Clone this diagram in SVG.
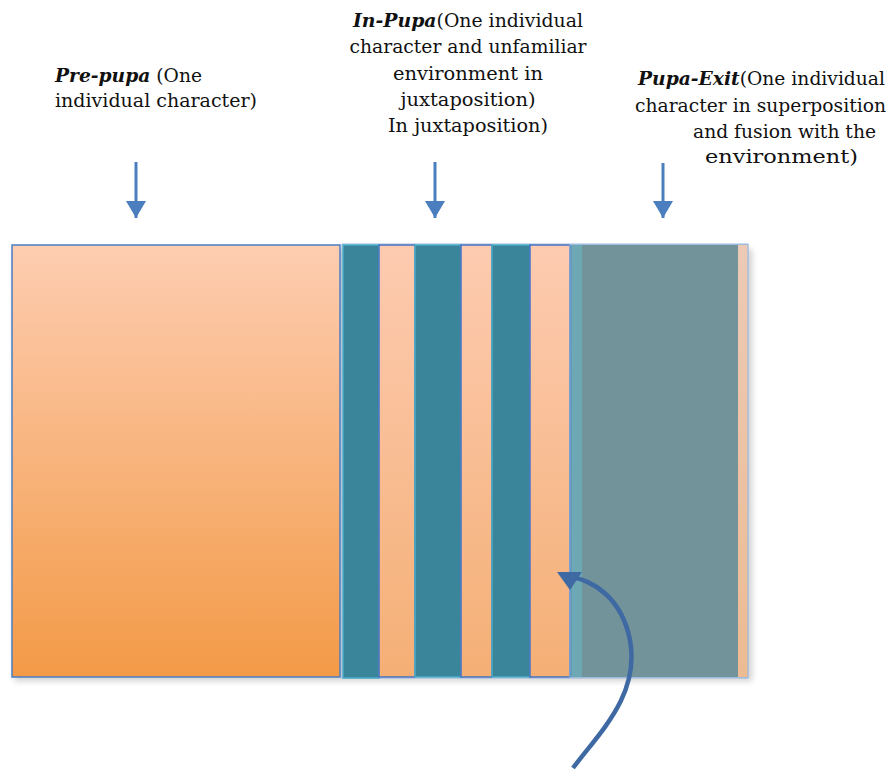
<svg xmlns="http://www.w3.org/2000/svg" width="893" height="772" viewBox="0 0 893 772">
  <defs>
    <linearGradient id="peachBig" x1="0" y1="0" x2="0" y2="1">
      <stop offset="0" stop-color="#FDCDB1"/>
      <stop offset="1" stop-color="#F39A47"/>
    </linearGradient>
    <linearGradient id="peachStripe" x1="0" y1="0" x2="0" y2="1">
      <stop offset="0" stop-color="#FDCBB1"/>
      <stop offset="1" stop-color="#F4AF75"/>
    </linearGradient>
    <linearGradient id="peachSliver" x1="0" y1="0" x2="0" y2="1">
      <stop offset="0" stop-color="#ECCAB6"/>
      <stop offset="1" stop-color="#EDBB92"/>
    </linearGradient>
    <filter id="shadow" x="-5%" y="-5%" width="110%" height="110%">
      <feGaussianBlur stdDeviation="3"/>
    </filter>
    <marker id="headDown" viewBox="0 0 10 10" refX="10" refY="5" markerWidth="17" markerHeight="20" markerUnits="userSpaceOnUse" orient="auto" preserveAspectRatio="none">
      <path d="M0,0 L10,5 L0,10 Z" fill="#4A7EBF"/>
    </marker>
    <style>
      text { font-family: "DejaVu Serif", "Liberation Serif", serif; font-size: 19px; fill: #111; }
      .b { font-weight: bold; font-style: italic; }
      .down { stroke: #4A7EBF; stroke-width: 3; fill: none; }
      .teal { fill: #3A8599; stroke: #4BACC6; stroke-width: 1.5; }
      .peach { fill: url(#peachStripe); stroke: #4472C4; stroke-width: 1.5; }
    </style>
  </defs>

  <!-- labels -->
  <g id="label-prepupa">
    <text x="55" y="82" textLength="147" lengthAdjust="spacingAndGlyphs"><tspan class="b">Pre-pupa</tspan> (One</text>
    <text x="55" y="107" textLength="202" lengthAdjust="spacingAndGlyphs">individual character)</text>
  </g>
  <g id="label-inpupa" text-anchor="middle">
    <text x="468" y="27" textLength="230" lengthAdjust="spacingAndGlyphs"><tspan class="b">In-Pupa</tspan>(One individual</text>
    <text x="468" y="53" textLength="237" lengthAdjust="spacingAndGlyphs">character and unfamiliar</text>
    <text x="468" y="80" textLength="150" lengthAdjust="spacingAndGlyphs">environment in</text>
    <text x="468" y="106" textLength="135" lengthAdjust="spacingAndGlyphs">juxtaposition)</text>
    <text x="468" y="132" textLength="160" lengthAdjust="spacingAndGlyphs">In juxtaposition)</text>
  </g>
  <g id="label-pupaexit">
    <text x="638" y="85" textLength="247" lengthAdjust="spacingAndGlyphs"><tspan class="b">Pupa-Exit</tspan>(One individual</text>
    <text x="635" y="112" textLength="251" lengthAdjust="spacingAndGlyphs">character in superposition</text>
    <text x="693" y="138" textLength="183" lengthAdjust="spacingAndGlyphs">and fusion with the</text>
    <text x="705" y="163" textLength="153" lengthAdjust="spacingAndGlyphs">environment)</text>
  </g>

  <!-- soft shadow under the blocks -->
  <rect x="14" y="249" width="738" height="432" fill="#000" opacity="0.18" filter="url(#shadow)"/>

  <!-- pre-pupa block -->
  <g id="block-prepupa">
    <rect x="12" y="245" width="328" height="432" fill="url(#peachBig)" stroke="#4A7DC0" stroke-width="1.5"/>
  </g>

  <!-- in-pupa and pupa-exit blocks -->
  <g id="block-panel">
    <rect x="342" y="244" width="406" height="434" fill="#FFFFFF" stroke="#9BBBE0" stroke-width="1"/>
  </g>
  <g id="block-inpupa">
    <rect class="teal" x="343" y="245" width="36" height="433"/>
    <rect class="peach" x="379" y="245" width="36" height="432"/>
    <rect class="teal" x="415" y="245" width="46" height="432"/>
    <rect class="peach" x="461" y="245" width="31" height="432"/>
    <rect class="teal" x="492" y="245" width="38" height="432"/>
    <rect class="peach" x="530" y="245" width="40" height="432"/>
  </g>
  <g id="block-pupaexit">
    <rect x="570" y="245" width="12" height="432" fill="#6FA8B5"/>
    <line x1="570.5" y1="245" x2="570.5" y2="677" stroke="#3D78B8" stroke-width="1.5"/>
    <rect x="582" y="245" width="156" height="432" fill="#72939A"/>
    <rect x="738" y="245" width="10" height="432" fill="url(#peachSliver)"/>
    <rect x="570" y="244.5" width="178" height="433" fill="none" stroke="#9BBBE0" stroke-width="1"/>
  </g>

  <!-- connectors -->
  <g id="connectors">
    <line class="down" x1="136" y1="162" x2="136" y2="218" marker-end="url(#headDown)"/>
    <line class="down" x1="435" y1="162" x2="435" y2="218" marker-end="url(#headDown)"/>
    <line class="down" x1="663" y1="163" x2="663" y2="218" marker-end="url(#headDown)"/>
    <path d="M573,768 C600,732 640,695 630,640 C622,600 596,580 566,576" fill="none" stroke="#3F69A2" stroke-width="4.5"/>
    <path d="M557,572 L582,572 L570,590 Z" fill="#3F69A2"/>
  </g>
</svg>
